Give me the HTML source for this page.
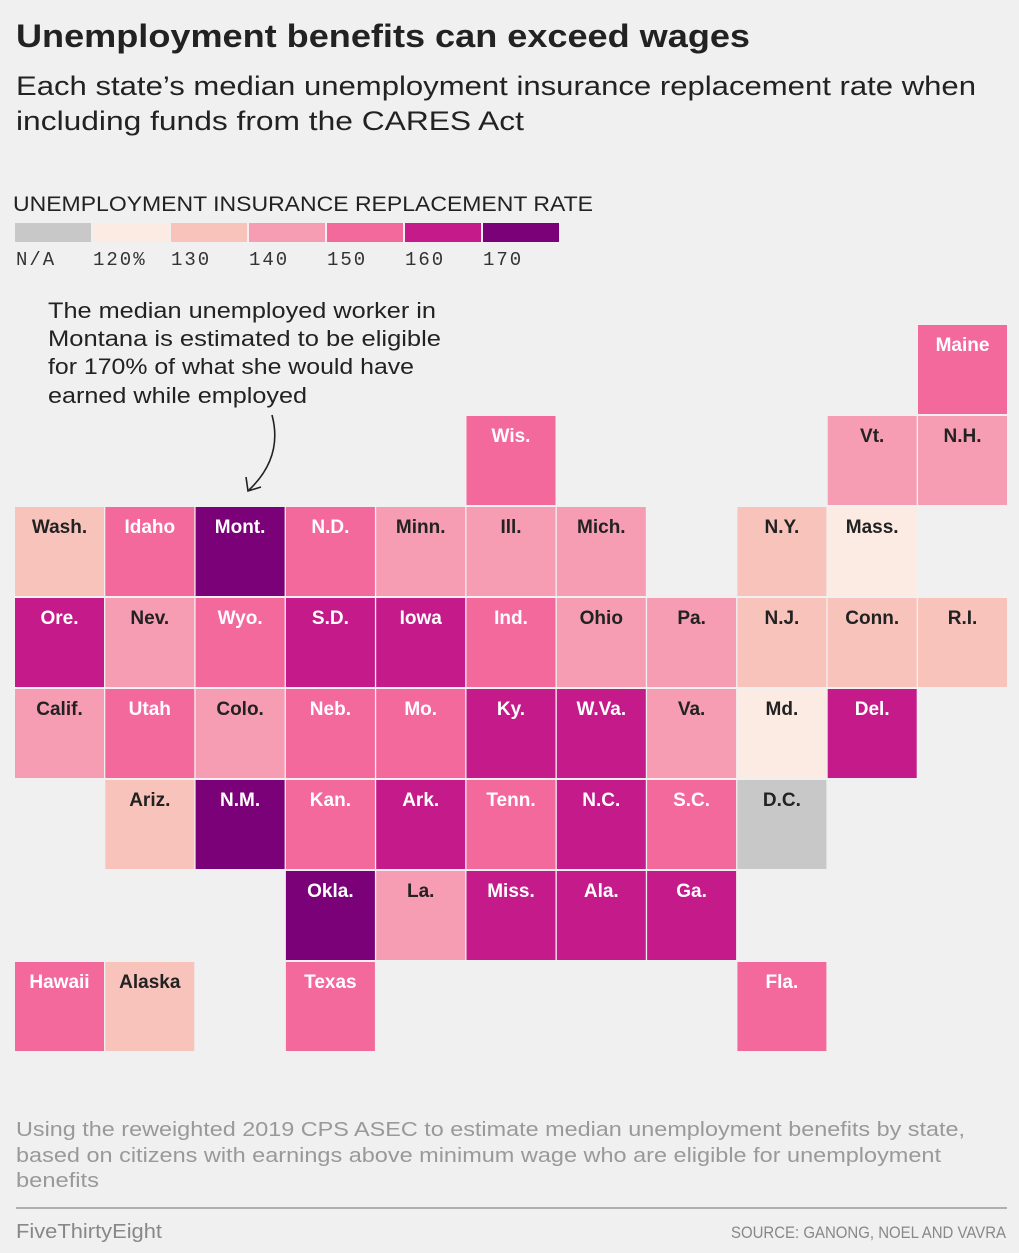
<!DOCTYPE html>
<html><head><meta charset="utf-8"><style>
body{margin:0;background:#f0f0f0;width:1019px;height:1248px;overflow:hidden;font-family:"Liberation Sans",sans-serif}
</style></head><body>
<svg width="1019" height="1248" xmlns="http://www.w3.org/2000/svg">
<rect width="1019" height="1248" fill="#f0f0f0"/>
<text x="16" y="47" font-size="32" font-weight="bold" fill="#222" textLength="734" lengthAdjust="spacingAndGlyphs">Unemployment benefits can exceed wages</text>
<text x="16" y="95" font-size="27" fill="#222" textLength="960" lengthAdjust="spacingAndGlyphs">Each state’s median unemployment insurance replacement rate when</text>
<text x="16" y="130" font-size="27" fill="#222" textLength="508" lengthAdjust="spacingAndGlyphs">including funds from the CARES Act</text>
<text x="13" y="211" font-size="21" fill="#222" textLength="580" lengthAdjust="spacingAndGlyphs">UNEMPLOYMENT INSURANCE REPLACEMENT RATE</text>
<g id="legend"></g>
<g id="tiles"></g>
<g font-size="22" fill="#222">
<text x="48" y="318" textLength="388" lengthAdjust="spacingAndGlyphs">The median unemployed worker in</text>
<text x="48" y="346" textLength="393" lengthAdjust="spacingAndGlyphs">Montana is estimated to be eligible</text>
<text x="48" y="374" textLength="366" lengthAdjust="spacingAndGlyphs">for 170% of what she would have</text>
<text x="48" y="403" textLength="259" lengthAdjust="spacingAndGlyphs">earned while employed</text>
<path d="M272 415 C280 445 270 470 249 490" fill="none" stroke="#222" stroke-width="1.6"/>
<path d="M246 477 L248 491 L261 487" fill="none" stroke="#222" stroke-width="1.6"/>
</g>
<g font-size="20" fill="#999">
<text x="16" y="1136" textLength="949" lengthAdjust="spacingAndGlyphs">Using the reweighted 2019 CPS ASEC to estimate median unemployment benefits by state,</text>
<text x="16" y="1162" textLength="925" lengthAdjust="spacingAndGlyphs">based on citizens with earnings above minimum wage who are eligible for unemployment</text>
<text x="16" y="1187" textLength="83" lengthAdjust="spacingAndGlyphs">benefits</text>
</g>
<line x1="16" y1="1208" x2="1007" y2="1208" stroke="#999" stroke-width="1.5"/>
<text x="16" y="1238" font-size="20" fill="#888" textLength="146" lengthAdjust="spacingAndGlyphs">FiveThirtyEight</text>
<text x="731" y="1238" font-size="17" fill="#888" textLength="275" lengthAdjust="spacingAndGlyphs">SOURCE: GANONG, NOEL AND VAVRA</text>
</svg>
<script>
const NS="http://www.w3.org/2000/svg";
const legendLabels=["N/A","120%","130","140","150","160","170"];
const legendColors=["#c8c8c8","#fcebe3","#f8c3bb","#f69db3","#f4699c","#c51b8a","#7a0177"];
const states=["Maine","Wis.","Vt.","N.H.","Wash.","Idaho","Mont.","N.D.","Minn.","Ill.","Mich.","N.Y.","Mass.","Ore.","Nev.","Wyo.","S.D.","Iowa","Ind.","Ohio","Pa.","N.J.","Conn.","R.I.","Calif.","Utah","Colo.","Neb.","Mo.","Ky.","W.Va.","Va.","Md.","Del.","Ariz.","N.M.","Kan.","Ark.","Tenn.","N.C.","S.C.","D.C.","Okla.","La.","Miss.","Ala.","Ga.","Hawaii","Alaska","Texas","Fla."];
const cols=[10,5,9,10,0,1,2,3,4,5,6,8,9,0,1,2,3,4,5,6,7,8,9,10,0,1,2,3,4,5,6,7,8,9,1,2,3,4,5,6,7,8,3,4,5,6,7,0,1,3,8];
const rows=[0,1,1,1,2,2,2,2,2,2,2,2,2,3,3,3,3,3,3,3,3,3,3,3,4,4,4,4,4,4,4,4,4,4,5,5,5,5,5,5,5,5,6,6,6,6,6,7,7,7,7];
const rates=[155,155,145,145,135,155,175,155,145,145,145,135,125,165,145,155,165,165,155,145,145,135,135,135,145,155,145,155,155,165,165,145,125,165,135,175,155,165,155,165,155,null,175,145,165,165,165,155,135,155,155];
function colorFor(v){if(v==null)return legendColors[0];let i=Math.floor((v-120)/10)+1;return legendColors[Math.max(1,Math.min(6,i))];}
const lg=document.getElementById('legend');
legendLabels.forEach((l,i)=>{
 const r=document.createElementNS(NS,'rect');
 r.setAttribute('x',15+i*78);r.setAttribute('y',223);r.setAttribute('width',76);r.setAttribute('height',19);r.setAttribute('fill',legendColors[i]);
 
 
 lg.appendChild(r);
 const t=document.createElementNS(NS,'text');
 t.setAttribute('x',i==0?16:93+(i-1)*78);t.setAttribute('y',265);t.setAttribute('font-size','19');t.setAttribute('fill','#333');t.setAttribute('font-family','Liberation Mono, monospace');t.setAttribute('letter-spacing','2');
 t.textContent=l;
 
 
 lg.appendChild(t);
});
const tg=document.getElementById('tiles');
const x=c=>15+c*90.3, y=r=>325+r*91;
states.forEach((s,i)=>{
 const v=rates[i];
 const g=document.createElementNS(NS,'g');
 
 
 const r=document.createElementNS(NS,'rect');
 r.setAttribute('x',x(cols[i]));r.setAttribute('y',y(rows[i]));r.setAttribute('width',89);r.setAttribute('height',89);r.setAttribute('fill',colorFor(v));
 g.appendChild(r);
 const t=document.createElementNS(NS,'text');
 t.setAttribute('x',x(cols[i])+44.5);t.setAttribute('y',y(rows[i])+26);t.setAttribute('text-anchor','middle');t.setAttribute('font-size','19');t.setAttribute('font-weight','bold');
 t.setAttribute('fill',(v!=null&&v>=150)?'#fff':'#222');
 t.textContent=s;
 g.appendChild(t);
 tg.appendChild(g);
});
</script>
</body></html>
